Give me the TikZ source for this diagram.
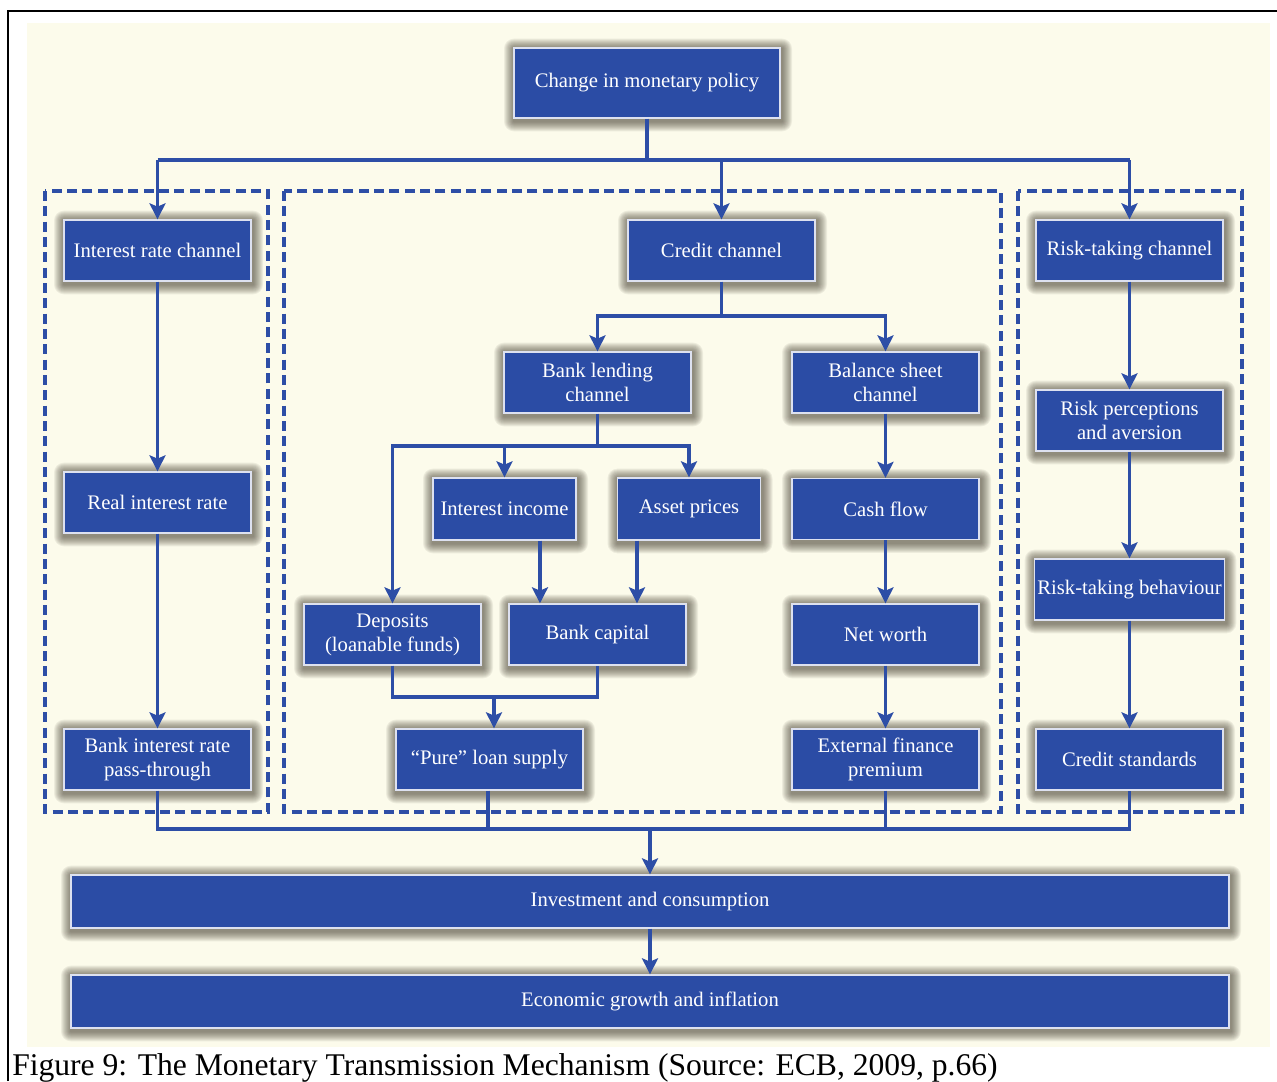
\documentclass[tikz,border=0pt]{standalone}
\usepackage{fontspec}
\setmainfont{Liberation Serif}
\usetikzlibrary{arrows.meta,calc}
\definecolor{cream}{HTML}{FCFBEB}
\definecolor{boxblue}{HTML}{2B4CA5}
\definecolor{lineblue}{HTML}{2D4EA6}
\definecolor{rimcol}{HTML}{DDE1F0}
\definecolor{shadowcol}{HTML}{3A3226}
\pgfdeclarelayer{bglayer}
\pgfdeclarelayer{shadowlayer}
\pgfsetlayers{bglayer,shadowlayer,main}
\tikzset{
  box/.style={fill=boxblue, draw=rimcol, line width=1pt, text=white, align=center,
    inner sep=2pt, minimum width=140.25pt, minimum height=45.75pt,
    font=\fontsize{15.5}{18}\selectfont},
  softshade/.style={fill=shadowcol, opacity=0.075},
  conn/.style={draw=lineblue, line width=2.5pt},
  arr/.style={conn, -{Stealth[length=12pt,width=12pt,inset=2.5pt]}},
  region/.style={draw=lineblue, line width=2.5pt, dash pattern=on 7.5pt off 4pt},
}
\begin{document}
\begin{tikzpicture}[x=0.75pt,y=-0.75pt]
\useasboundingbox (0,0) rectangle (1277,1081);
\begin{pgfonlayer}{bglayer}
\fill[white] (0,0) rectangle (1277,1081);
\fill[cream] (27,23) rectangle (1270,1047);
\end{pgfonlayer}
\draw[black, line width=1.1pt] (8,1081) -- (8,11) -- (1277,11);

% dashed regions
\draw[region] (45,191) rectangle (268,812);
\draw[region] (284,191) rectangle (1001,812);
\draw[region] (1018,191) rectangle (1242,812);

% nodes
\node[box, minimum width=199.5pt, minimum height=52.5pt] (policy) at (647,83) {Change in monetary policy};
\node[box] (irc) at (157.5,250.5) {Interest rate channel};
\node[box] (credit) at (721.5,250.5) {Credit channel};
\node[box] (risk) at (1129.5,250.5) {Risk-taking channel};
\node[box] (banklend) at (597.5,382.5) {Bank lending\\channel};
\node[box] (balance) at (885.5,382.5) {Balance sheet\\channel};
\node[box, minimum width=107.25pt, minimum height=46.5pt] (intinc) at (504.5,509) {Interest income};
\node[box, minimum width=107.25pt, minimum height=46.5pt] (asset) at (689,509) {Asset prices};
\node[box] (cashflow) at (885.5,509) {Cash flow};
\node[box, minimum width=132.75pt] (deposits) at (392.5,634.5) {Deposits\\(loanable funds)};
\node[box, minimum width=132.75pt] (bankcap) at (597.5,634.5) {Bank capital};
\node[box] (networth) at (885.5,634.5) {Net worth};
\node[box] (pure) at (489.5,759.5) {``Pure'' loan supply};
\node[box] (extfin) at (885.5,759.5) {External finance\\premium};
\node[box] (realrate) at (157.5,502.5) {Real interest rate};
\node[box] (passthrough) at (157.5,759.5) {Bank interest rate\\pass-through};
\node[box] (riskperc) at (1129.5,420.5) {Risk perceptions\\and aversion};
\node[box] (riskbeh) at (1129.5,589.5) {Risk-taking behaviour};
\node[box] (creditstd) at (1129.5,759.5) {Credit standards};
\node[box, minimum width=868.5pt, minimum height=39.75pt] (invest) at (650,901.5) {Investment and consumption};
\node[box, minimum width=868.5pt, minimum height=39.75pt] (growth) at (650,1001.5) {Economic growth and inflation};

% soft shadows behind the boxes
\begin{pgfonlayer}{shadowlayer}
\foreach \n in {policy,irc,credit,risk,banklend,balance,intinc,asset,cashflow,deposits,bankcap,networth,pure,extfin,realrate,passthrough,riskperc,riskbeh,creditstd,invest,growth}{
  \foreach \r in {1,...,10}{
    \pgfmathsetmacro{\d}{0.75*\r}
    \fill[softshade, rounded corners=\d pt]
      ([shift={(-\d pt+0.5pt,\d pt-1pt)}]\n.north west) rectangle ([shift={(\d pt+1pt,-\d pt-2pt)}]\n.south east);
  }
}
\end{pgfonlayer}

% junction coordinates
\coordinate (jtop) at (648,160);
\coordinate (jcredit) at (721.5,316);
\coordinate (jbank) at (597.5,446);
\coordinate (jdep) at (494,697);
\coordinate (jbottom) at (650,829);

% top level
\draw[conn] (policy.south) -- (policy.south |- jtop);
\draw[conn] (irc.north |- jtop) -- (risk.north |- jtop);
\draw[arr] (irc.north |- jtop) -- (irc.north);
\draw[arr] (credit.north |- jtop) -- (credit.north);
\draw[arr] (risk.north |- jtop) -- (risk.north);

% interest rate channel
\draw[arr] (irc) -- (realrate);
\draw[arr] (realrate) -- (passthrough);

% credit channel
\draw[conn] (credit.south) -- (jcredit);
\draw[arr] (jcredit) -| (banklend.north);
\draw[arr] (jcredit) -| (balance.north);
\draw[conn] (banklend.south) -- (jbank);
\draw[arr] (jbank) -| (intinc.north);
\draw[arr] (jbank) -| (asset.north);
\draw[arr] (jbank) -| (deposits.north);
\draw[arr] ([xshift=26.6pt]intinc.south) -- ([xshift=26.6pt]intinc.south |- bankcap.north);
\draw[arr] ([xshift=-39pt]asset.south) -- ([xshift=-39pt]asset.south |- bankcap.north);
\draw[conn] (deposits.south) |- (jdep) -| (bankcap.south);
\draw[arr] (jdep) -- (jdep |- pure.north);
\draw[arr] (balance) -- (cashflow);
\draw[arr] (cashflow) -- (networth);
\draw[arr] (networth) -- (extfin);

% risk-taking channel
\draw[arr] (risk) -- (riskperc);
\draw[arr] (riskperc) -- (riskbeh);
\draw[arr] (riskbeh) -- (creditstd);

% collector
\draw[conn] (passthrough.south) |- (jbottom) -| (creditstd.south);
\draw[conn] ([xshift=-1.2pt]pure.south) -- ([xshift=-1.2pt]pure.south |- jbottom);
\draw[conn] (extfin.south) -- (extfin.south |- jbottom);
\draw[arr] (jbottom) -- (invest.north);
\draw[arr] (invest) -- (growth);

% caption
\node[anchor=base west, inner sep=0pt, font=\fontsize{23.7}{28}\selectfont] (caption) at (12,1075) {Figure 9: The Monetary Transmission Mechanism (Source: ECB, 2009, p.66)};
\end{tikzpicture}
\end{document}
